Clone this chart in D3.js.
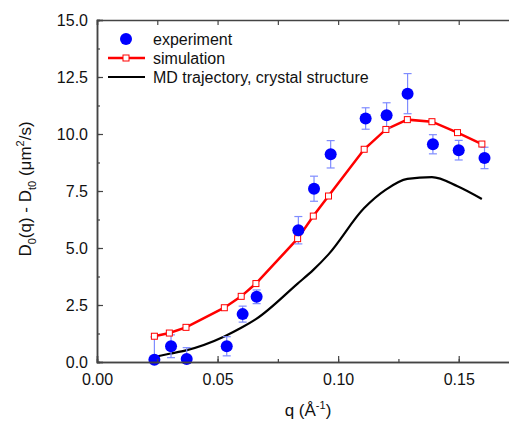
<!DOCTYPE html>
<html>
<head>
<meta charset="utf-8">
<script src="https://cdn.jsdelivr.net/npm/d3@7"></script>
<style>
  body { margin: 0; background: #fff; }
  text { font-family: Arial, 'Liberation Sans', sans-serif; }
</style>
</head>
<body>
<div id="vis"></div>
<script>
// Datos
const simQ = [0.0238, 0.030, 0.0369, 0.0528, 0.0598, 0.0659, 0.0832, 0.0897, 0.096, 0.1108, 0.1198, 0.1287, 0.1389, 0.1495, 0.1596];
const simD = [1.13, 1.27, 1.52, 2.38, 2.88, 3.44, 5.41, 6.4, 7.28, 9.33, 10.2, 10.63, 10.54, 10.06, 9.56];

const expQ = [0.0238, 0.0307, 0.0372, 0.0538, 0.0604, 0.0662, 0.0835, 0.090, 0.0969, 0.1114, 0.1201, 0.1288, 0.1393, 0.150, 0.1607];
const expD = [0.1, 0.69, 0.13, 0.69, 2.1, 2.86, 5.78, 7.6, 9.11, 10.68, 10.82, 11.77, 9.55, 9.29, 8.95];
const expErr = [1.0, 0.5, 0.5, 0.42, 0.35, 0.3, 0.6, 0.55, 0.6, 0.47, 0.55, 0.88, 0.42, 0.43, 0.47];

const mdQ = [0.0238, 0.030, 0.0369, 0.0528, 0.0598, 0.0659, 0.0832, 0.0897, 0.096, 0.1108, 0.1198, 0.1287, 0.1389, 0.1495, 0.1596];
const mdD = [0.22, 0.36, 0.51, 1.12, 1.5, 1.88, 3.44, 4.04, 4.72, 6.75, 7.56, 8.03, 8.11, 7.71, 7.15];

const xTicks = [0, 0.05, 0.1, 0.15];
const yTicks = [0, 2.5, 5, 7.5, 10, 12.5, 15];

const legendLabels = ['experiment', 'simulation', 'MD trajectory, crystal structure'];

const WIDTH_VIS = 509;
const HEIGHT_VIS = 421;

const MARGIN = { top: 20, bottom: 59, left: 97, right: -10 };

const SVG = d3.select('#vis').append('svg')
  .attr('width', WIDTH_VIS)
  .attr('height', HEIGHT_VIS);

const x = d3.scaleLinear().domain([0, 0.175]).range([MARGIN.left, WIDTH_VIS - MARGIN.right]);
const y = d3.scaleLinear().domain([0, 15]).range([HEIGHT_VIS - MARGIN.bottom, MARGIN.top]);

const AXIS_COLOR = '#444';

function drawAxes() {
  const minorX = d3.range(0, 0.176, 0.025);
  const minorY = d3.range(0, 15.01, 1.25);

  // eje x abajo, ticks hacia adentro
  const xAxis = SVG.append('g').attr('transform', `translate(0,${y(0)})`)
    .call(d3.axisBottom(x).tickValues(xTicks).tickSize(-6).tickPadding(12).tickFormat(d3.format('.2f')));
  SVG.append('g').attr('transform', `translate(0,${y(0)})`)
    .call(d3.axisBottom(x).tickValues(minorX).tickSize(-3).tickFormat(''));

  // eje x arriba
  SVG.append('g').attr('transform', `translate(0,${y(15)})`)
    .call(d3.axisTop(x).tickValues(minorX).tickSize(-5).tickFormat(''));

  // eje y
  SVG.append('g').attr('transform', `translate(${x(0)},0)`)
    .call(d3.axisLeft(y).tickValues(yTicks).tickSize(-6).tickPadding(9).tickFormat(d3.format('.1f')));
  SVG.append('g').attr('transform', `translate(${x(0)},0)`)
    .call(d3.axisLeft(y).tickValues(minorY).tickSize(-3).tickFormat(''));

  SVG.selectAll('.domain').attr('stroke', AXIS_COLOR).attr('stroke-width', 1.5);
  SVG.selectAll('.tick line').attr('stroke', AXIS_COLOR).attr('stroke-width', 1.2);
  SVG.selectAll('.tick text')
    .attr('font-size', 16)
    .attr('font-family', 'Arial, Liberation Sans, sans-serif')
    .attr('fill', '#111');
  xAxis.selectAll('.tick text').attr('dy', '0.71em');

  // titulo eje x
  const xt = SVG.append('text')
    .attr('x', 308)
    .attr('y', 416)
    .attr('text-anchor', 'middle')
    .attr('font-size', 17)
    .attr('fill', '#111');
  xt.append('tspan').text('q (Å');
  xt.append('tspan').attr('dy', -7).attr('font-size', 11).text('-1');
  xt.append('tspan').attr('dy', 7).text(')');

  // titulo eje y
  const yt = SVG.append('text')
    .attr('transform', 'translate(31,189) rotate(-90)')
    .attr('text-anchor', 'middle')
    .attr('font-size', 17)
    .attr('fill', '#111');
  yt.append('tspan').text('D');
  yt.append('tspan').attr('dy', 5).attr('font-size', 11).text('0');
  yt.append('tspan').attr('dy', -5).text('(q) - D');
  yt.append('tspan').attr('dy', 5).attr('font-size', 11).text('t0');
  yt.append('tspan').attr('dy', -5).text(' (μm');
  yt.append('tspan').attr('dy', -7).attr('font-size', 11).text('2');
  yt.append('tspan').attr('dy', 7).text('/s)');
}

function drawSeries() {
  const g = SVG.append('g');

  // MD trayectoria
  const mdLine = d3.line().x((d, i) => x(mdQ[i])).y((d) => y(d)).curve(d3.curveMonotoneX);
  g.append('path')
    .datum(mdD)
    .attr('d', mdLine)
    .attr('fill', 'none')
    .attr('stroke', '#000')
    .attr('stroke-width', 2.2);

  // simulacion
  const simLine = d3.line().x((d, i) => x(simQ[i])).y((d) => y(d));
  g.append('path')
    .datum(simD)
    .attr('d', simLine)
    .attr('fill', 'none')
    .attr('stroke', '#f00')
    .attr('stroke-width', 2.5);

  // barras de error
  const errColor = '#7f8cff';
  expD.forEach((d, i) => {
    const cx = x(expQ[i]);
    const lo = Math.max(0, d - expErr[i]);
    const hi = d + expErr[i];
    g.append('line')
      .attr('x1', cx).attr('x2', cx)
      .attr('y1', y(lo)).attr('y2', y(hi))
      .attr('stroke', errColor).attr('stroke-width', 1.2);
    [lo, hi].forEach((v) => {
      g.append('line')
        .attr('x1', cx - 4).attr('x2', cx + 4)
        .attr('y1', y(v)).attr('y2', y(v))
        .attr('stroke', errColor).attr('stroke-width', 1.2);
    });
  });

  g.selectAll('rect.sim')
    .data(simD)
    .join('rect')
    .attr('class', 'sim')
    .attr('x', (d, i) => x(simQ[i]) - 3)
    .attr('y', (d) => y(d) - 3)
    .attr('width', 6)
    .attr('height', 6)
    .attr('fill', '#fff')
    .attr('stroke', '#f00')
    .attr('stroke-width', 1);

  g.selectAll('circle.exp')
    .data(expD)
    .join('circle')
    .attr('class', 'exp')
    .attr('cx', (d, i) => x(expQ[i]))
    .attr('cy', (d) => y(d))
    .attr('r', 6)
    .attr('fill', '#0000ff');
}

function drawLegend() {
  const g = SVG.append('g');
  const rowY = [39, 58, 77];

  g.append('circle').attr('cx', 126).attr('cy', rowY[0]).attr('r', 6).attr('fill', '#0000ff');

  g.append('line')
    .attr('x1', 108).attr('x2', 145)
    .attr('y1', rowY[1]).attr('y2', rowY[1])
    .attr('stroke', '#f00').attr('stroke-width', 2.5);
  g.append('rect')
    .attr('x', 123).attr('y', rowY[1] - 3)
    .attr('width', 6).attr('height', 6)
    .attr('fill', '#fff').attr('stroke', '#f00');

  g.append('line')
    .attr('x1', 108).attr('x2', 145)
    .attr('y1', rowY[2]).attr('y2', rowY[2])
    .attr('stroke', '#000').attr('stroke-width', 2.2);

  legendLabels.forEach((label, i) => {
    g.append('text')
      .attr('x', 153)
      .attr('y', rowY[i] + 5.5)
      .attr('font-size', 16)
      .attr('fill', '#111')
      .text(label);
  });
}

drawSeries();
drawAxes();
drawLegend();
</script>
</body>
</html>
